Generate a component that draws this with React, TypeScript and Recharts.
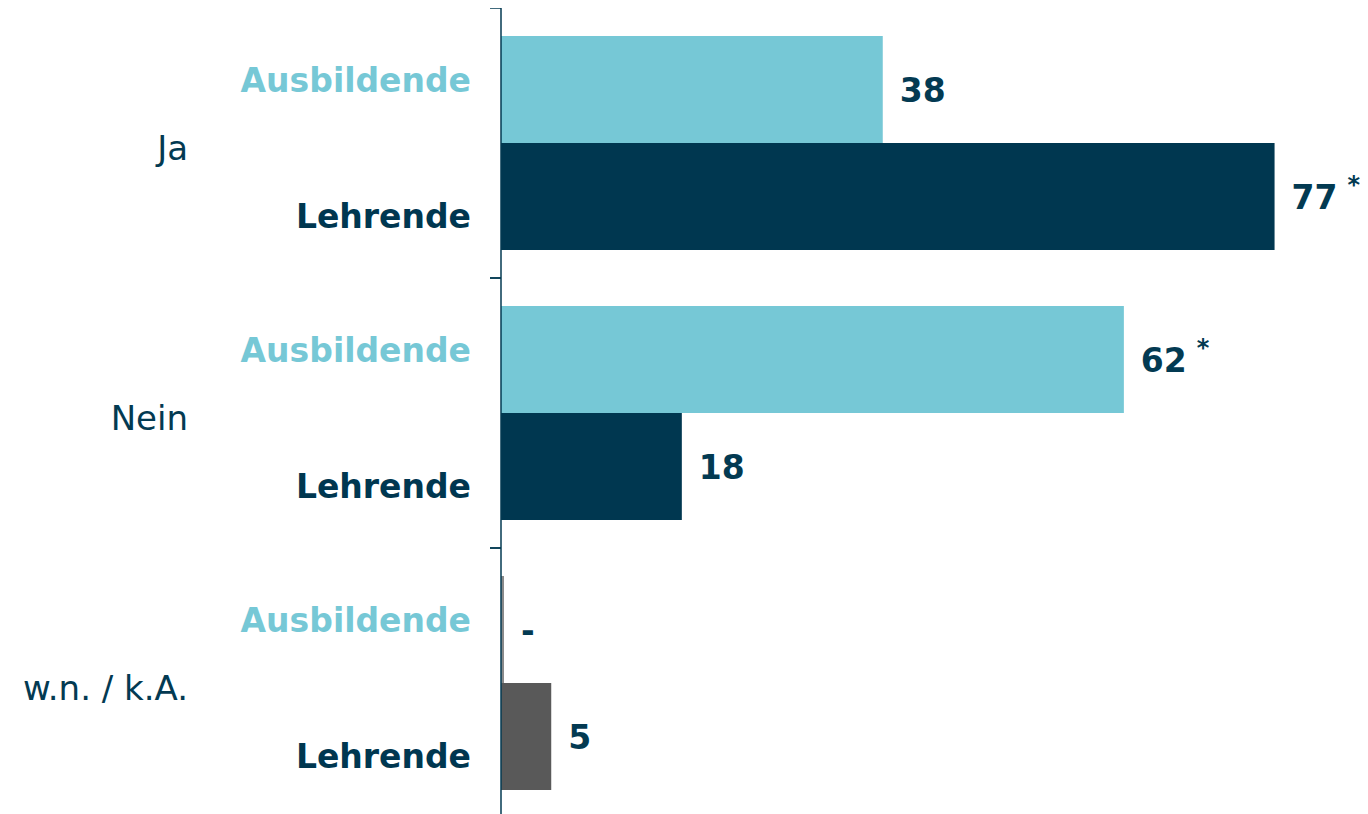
import React from "react";
import { BarChart, Bar, XAxis, YAxis, Cell, LabelList } from "recharts";

const categories = ["Ja", "Nein", "w.n. / k.A."];
const seriesNames = ["Ausbildende", "Lehrende"];
const ausbildende = [38, 62, 0.3];
const lehrende = [77, 18, 5];
const ausbildendeLabels = ["38", "62", "-"];
const lehrendeLabels = ["77", "18", "5"];
const ausbildendeStars = [false, true, false];
const lehrendeStars = [true, false, false];

const LIGHT = "#76C8D6";
const DARK = "#003750";
const GRAY = "#595959";
const LIGHTGRAY = "#8a8a8a";
const TEXT = "#033a52";
const FONT = "'DejaVu Sans', Verdana, sans-serif";

const data = categories.map((c, i) => ({
  cat: c,
  ausbildende: ausbildende[i],
  lehrende: lehrende[i],
}));

const WIDTH = 1360;
const HEIGHT = 812;
const MARGIN = { top: 0, right: 0, bottom: 2, left: 0 };
const HALF_BAND = (HEIGHT - MARGIN.top - MARGIN.bottom) / categories.length / 2;

const CategoryTick = (props: any) => {
  const { x, y, payload } = props;
  const ax = x;
  return (
    <g>
      <line x1={ax - 11} x2={ax} y1={y - HALF_BAND} y2={y - HALF_BAND} stroke={TEXT} strokeWidth={1.5} />
      <line x1={ax - 11} x2={ax} y1={y + HALF_BAND} y2={y + HALF_BAND} stroke={TEXT} strokeWidth={1.5} />
      <text x={ax - 313} y={y + 17} textAnchor="end" fontFamily={FONT} fontSize={34} fill={TEXT}>
        {payload.value}
      </text>
      <text x={ax - 30} y={y - 51} textAnchor="end" fontFamily={FONT} fontSize={33} fontWeight="bold" fill={LIGHT}>
        {seriesNames[0]}
      </text>
      <text x={ax - 30} y={y + 85} textAnchor="end" fontFamily={FONT} fontSize={33} fontWeight="bold" fill={DARK}>
        {seriesNames[1]}
      </text>
    </g>
  );
};

const makeLabel = (texts: string[], stars: boolean[]) => (props: any) => {
  const { x, y, width, height, index } = props;
  const tx = Number(x) + Number(width) + 17;
  const ty = Number(y) + Number(height) / 2 + 12;
  return (
    <text x={tx} y={ty} fontFamily={FONT} fontSize={33} fontWeight="bold" fill={TEXT}>
      {texts[index]}
      {stars[index] ? (
        <tspan dx={10} dy={-16} fontSize={24}>
          *
        </tspan>
      ) : null}
    </text>
  );
};

export default function App() {
  return (
    <div style={{ width: WIDTH, height: HEIGHT }}>
      <BarChart
        width={WIDTH}
        height={HEIGHT}
        data={data}
        layout="vertical"
        margin={MARGIN}
        barCategoryGap={28}
        barGap={0}
      >
        <XAxis type="number" domain={[0, 86.3]} hide allowDataOverflow />
        <YAxis
          type="category"
          dataKey="cat"
          width={493}
          tickSize={0}
          tickMargin={0}
          tickLine={false}
          axisLine={{ stroke: TEXT, strokeWidth: 1.5 }}
          tick={<CategoryTick />}
        />
        <Bar dataKey="ausbildende" fill={LIGHT} isAnimationActive={false}>
          {data.map((_, i) => (
            <Cell key={i} fill={i === 2 ? LIGHTGRAY : LIGHT} />
          ))}
          <LabelList dataKey="ausbildende" content={makeLabel(ausbildendeLabels, ausbildendeStars)} />
        </Bar>
        <Bar dataKey="lehrende" fill={DARK} isAnimationActive={false}>
          {data.map((_, i) => (
            <Cell key={i} fill={i === 2 ? GRAY : DARK} />
          ))}
          <LabelList dataKey="lehrende" content={makeLabel(lehrendeLabels, lehrendeStars)} />
        </Bar>
      </BarChart>
    </div>
  );
}
